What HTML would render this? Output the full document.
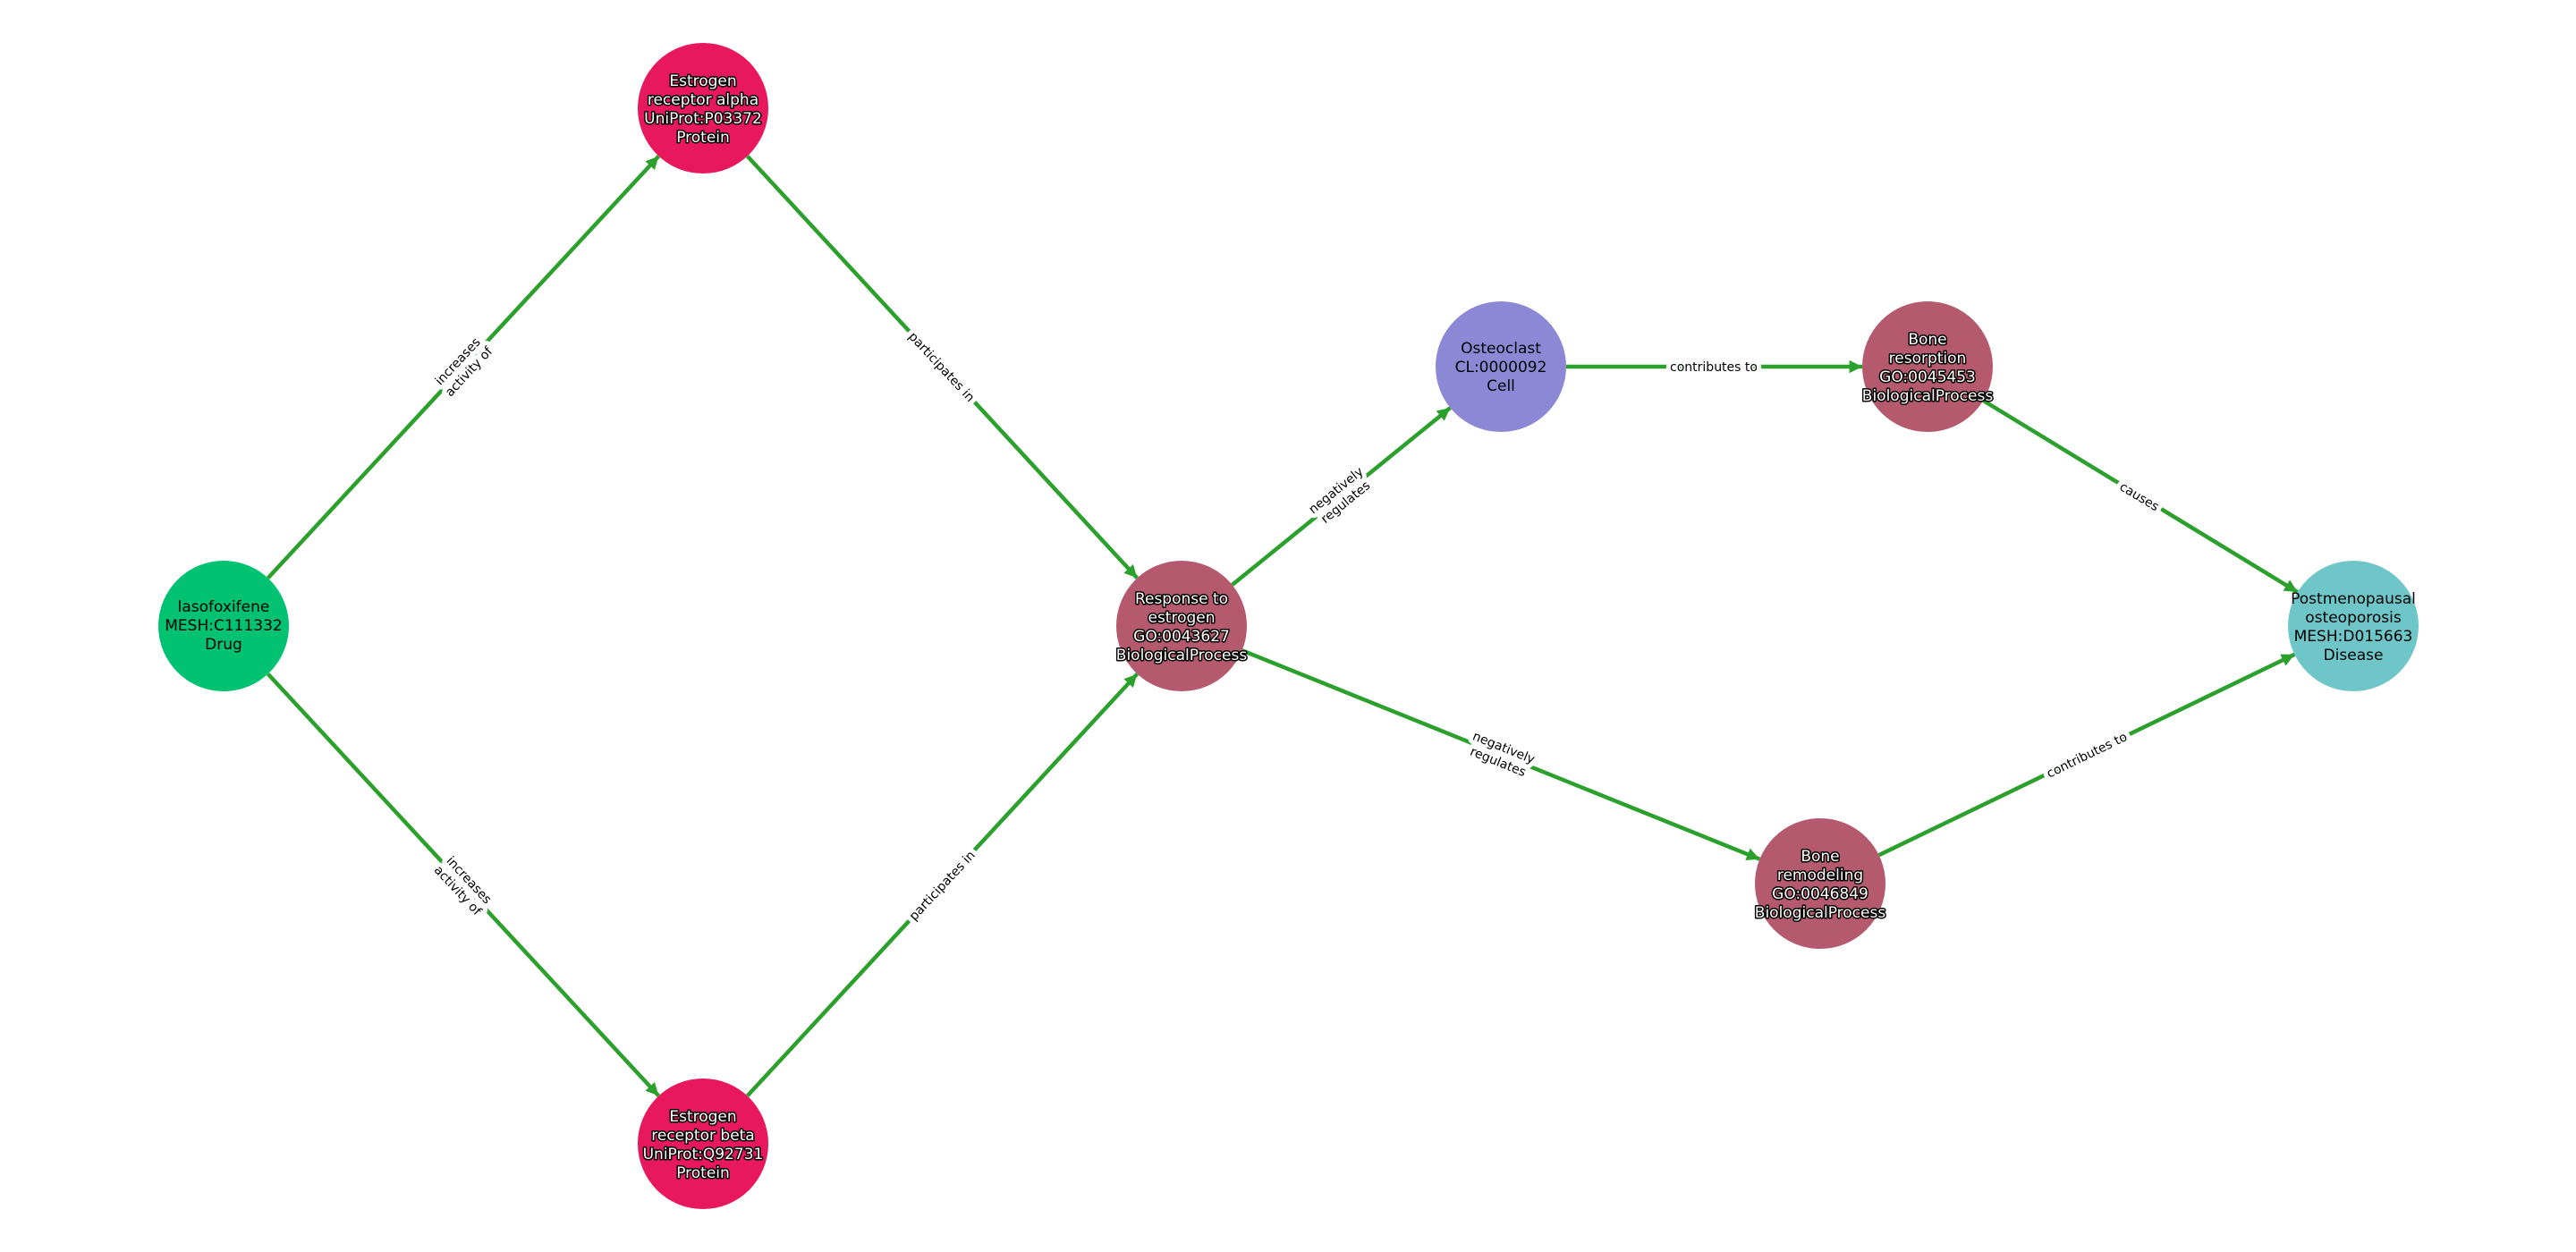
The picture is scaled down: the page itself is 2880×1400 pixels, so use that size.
<!DOCTYPE html>
<html><head><meta charset="utf-8"><style>
html,body{margin:0;padding:0;background:#fff;width:2880px;height:1400px;overflow:hidden}
svg{display:block}
.n{font-family:"DejaVu Sans","Liberation Sans",sans-serif;font-size:17px;text-anchor:middle}
.w{fill:#fff;stroke:#000;stroke-width:3px;paint-order:stroke;stroke-linejoin:round}
.e{font-family:"DejaVu Sans","Liberation Sans",sans-serif;font-size:14px;text-anchor:middle;fill:#000;stroke:#fff;stroke-width:10px;paint-order:stroke;stroke-linejoin:round}
line{stroke:#2ca02c;stroke-width:4.5}
</style></head><body>
<svg width="2880" height="1400" viewBox="0 0 2880 1400">
<defs><marker id="a" viewBox="0 0 10 10" refX="10" refY="5" markerWidth="3.2" markerHeight="3.2" markerUnits="strokeWidth" orient="auto"><path d="M0,0 L10,5 L0,10 z" fill="#2ca02c"/></marker></defs>
<g marker-end="url(#a)">
<line x1="299.6" y1="646.4" x2="736.4" y2="174.6"/>
<line x1="299.6" y1="753.6" x2="736.4" y2="1225.4"/>
<line x1="835.6" y1="174.6" x2="1271.4" y2="646.4"/>
<line x1="835.6" y1="1225.4" x2="1271.4" y2="753.6"/>
<line x1="1377.6" y1="654" x2="1621.4" y2="456"/>
<line x1="1388.7" y1="727.3" x2="1967.3" y2="960.7"/>
<line x1="1751" y1="410" x2="2082" y2="410"/>
<line x1="2217.4" y1="448" x2="2568.6" y2="662"/>
<line x1="2100.7" y1="956.2" x2="2565.3" y2="731.8"/>
</g>
<g>
<text class="e" transform="translate(518,410) rotate(-47)"><tspan x="0" y="-4">increases</tspan><tspan x="0" y="13">activity of</tspan></text>
<text class="e" transform="translate(518,990) rotate(47)"><tspan x="0" y="-4">increases</tspan><tspan x="0" y="13">activity of</tspan></text>
<text class="e" transform="translate(1053,410) rotate(47)"><tspan x="0" y="5">participates in</tspan></text>
<text class="e" transform="translate(1053,990) rotate(-47)"><tspan x="0" y="5">participates in</tspan></text>
<text class="e" transform="translate(1499,555) rotate(-39)"><tspan x="0" y="-4">negatively</tspan><tspan x="0" y="13">regulates</tspan></text>
<text class="e" transform="translate(1678,844) rotate(22)"><tspan x="0" y="-4">negatively</tspan><tspan x="0" y="13">regulates</tspan></text>
<text class="e" transform="translate(1916,410)"><tspan x="0" y="5">contributes to</tspan></text>
<text class="e" transform="translate(2392,555) rotate(31)"><tspan x="0" y="5">causes</tspan></text>
<text class="e" transform="translate(2333,844) rotate(-26)"><tspan x="0" y="5">contributes to</tspan></text>
</g>
<circle cx="250" cy="700" r="73" fill="#00c271"/>
<circle cx="786" cy="121" r="73" fill="#e8185f"/>
<circle cx="786" cy="1279" r="73" fill="#e8185f"/>
<circle cx="1321" cy="700" r="73" fill="#b5596e"/>
<circle cx="1678" cy="410" r="73" fill="#8c88d6"/>
<circle cx="2155" cy="410" r="73" fill="#b5596e"/>
<circle cx="2035" cy="988" r="73" fill="#b5596e"/>
<circle cx="2631" cy="700" r="73" fill="#6fc6c9"/>
<text class="n" x="250" y="684">lasofoxifene<tspan x="250" dy="21">MESH:C111332</tspan><tspan x="250" dy="21">Drug</tspan></text>
<text class="n w" x="786" y="96">Estrogen<tspan x="786" dy="21">receptor alpha</tspan><tspan x="786" dy="21">UniProt:P03372</tspan><tspan x="786" dy="21">Protein</tspan></text>
<text class="n w" x="786" y="1254">Estrogen<tspan x="786" dy="21">receptor beta</tspan><tspan x="786" dy="21">UniProt:Q92731</tspan><tspan x="786" dy="21">Protein</tspan></text>
<text class="n w" x="1321" y="675">Response to<tspan x="1321" dy="21">estrogen</tspan><tspan x="1321" dy="21">GO:0043627</tspan><tspan x="1321" dy="21">BiologicalProcess</tspan></text>
<text class="n" x="1678" y="395">Osteoclast<tspan x="1678" dy="21">CL:0000092</tspan><tspan x="1678" dy="21">Cell</tspan></text>
<text class="n w" x="2155" y="385">Bone<tspan x="2155" dy="21">resorption</tspan><tspan x="2155" dy="21">GO:0045453</tspan><tspan x="2155" dy="21">BiologicalProcess</tspan></text>
<text class="n w" x="2035" y="963">Bone<tspan x="2035" dy="21">remodeling</tspan><tspan x="2035" dy="21">GO:0046849</tspan><tspan x="2035" dy="21">BiologicalProcess</tspan></text>
<text class="n" x="2631" y="675">Postmenopausal<tspan x="2631" dy="21">osteoporosis</tspan><tspan x="2631" dy="21">MESH:D015663</tspan><tspan x="2631" dy="21">Disease</tspan></text>
</svg>
</body></html>
